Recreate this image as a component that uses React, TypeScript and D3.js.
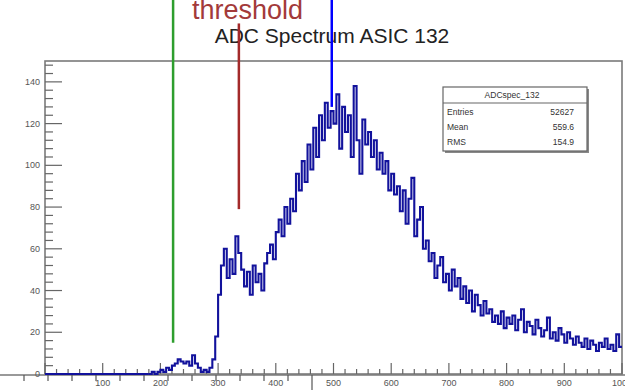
import React from 'react';
import * as d3 from 'd3';

// histogram: bins of width 5 starting at 180 (everything below is empty)
const binStart = 180;
const binWidth = 5;
const counts = [
  0, 1, 0, 1, 2, 1, 3, 2, 4, 5, 7, 6, 5, 6, 4, 9, 5, 3, 1, 2,
  1, 3, 7, 18, 38, 52, 60, 46, 55, 48, 66, 58, 50, 42, 49, 38, 52, 44, 48, 40,
  53, 58, 62, 55, 68, 74, 66, 80, 72, 84, 78, 96, 88, 102, 92, 110, 98, 118, 104, 124,
  112, 130, 118, 126, 120, 134, 108, 128, 116, 124, 104, 138, 112, 96, 122, 110, 116, 104, 112, 98,
  106, 96, 102, 88, 96, 86, 90, 78, 88, 72, 84, 94, 66, 74, 80, 60, 64, 54, 58, 46,
  52, 56, 44, 48, 40, 50, 42, 46, 36, 42, 34, 40, 30, 38, 33, 28, 35, 29, 31, 25,
  28, 24, 30, 22, 27, 24, 28, 21, 26, 31, 20, 25, 23, 19, 26, 22, 18, 21, 27, 17,
  20, 16, 22, 19, 15, 20, 17, 14, 18, 15, 13, 17, 12, 16, 14, 11, 15, 13, 17, 12,
  14, 11, 19, 13,
];

const xTickLabels = ['100', '200', '300', '400', '500', '600', '700', '800', '900', '1000'];
const yTickLabels = ['0', '20', '40', '60', '80', '100', '120', '140'];

// marker lines: position, bottom value, top value
const markers = [
  { x: 222, y0: 15, y1: 180, color: '#2e9e2e' },
  { x: 336, y0: 79, y1: 168, color: '#a32a2a' },
  { x: 497, y0: 128, y1: 180, color: '#0000ff' },
];

const statLabels = ['Entries', 'Mean', 'RMS'];
const statValues = ['52627', '559.6', '154.9'];

const W = 625;
const H = 390;
const font = '"Liberation Sans", Arial, sans-serif';

export default function App() {
  const x = d3.scaleLinear().domain([0, 1000]).range([45, 622]);
  const y = d3.scaleLinear().domain([0, 150]).range([374, 61]);
  // stray axis under the frame
  const stray = d3.scaleLinear().domain([0, 13]).range([0, 312]);

  const pts: [number, number][] = counts.map((c, i) => [binStart + i * binWidth, c]);
  pts.push([binStart + counts.length * binWidth, counts[counts.length - 1]]);
  const hist = d3.line<[number, number]>()
    .x(d => x(d[0]))
    .y(d => y(d[1]))
    .curve(d3.curveStepAfter)(pts);
  const base = d3.line<[number, number]>()
    .x(d => x(d[0]))
    .y(d => y(d[1]))([[0, 0], [binStart, 0]]);

  const xMinor = d3.range(0, 1001, 20);
  const yMinor = d3.range(0, 149, 4);
  const yMajor = yTickLabels.map(Number);
  const xMajor = xTickLabels.map(Number);

  return (
    <svg width={W} height={H} style={{ position: 'absolute', left: 0, top: 0, background: '#fff' }}>
      <rect width={W} height={H} fill="#fff" />

      <text x={192} y={19} fontFamily={font} fontSize={27} fill="#a33a3a">threshold</text>
      <text x={332} y={43} fontFamily={font} fontSize={21} fill="#222" textAnchor="middle">ADC Spectrum ASIC 132</text>

      {/* frame */}
      <rect x={x(0)} y={y(150)} width={x(1000) - x(0)} height={y(0) - y(150)} fill="none" stroke="#7a7a7a" strokeWidth={1.6} />
      <line x1={0} x2={W} y1={y(0) + 1} y2={y(0) + 1} stroke="#777" strokeWidth={1.5} />
      {stray.ticks(13).filter(t => t > 0).map(t => (
        <line key={'s' + t} x1={stray(t)} x2={stray(t)} y1={y(0) + 1} y2={y(0) + (t === 13 ? 16 : 7)} stroke="#555" strokeWidth={1.2} />
      ))}

      {/* x ticks */}
      {xMinor.map(t => (
        <line key={'xm' + t} x1={x(t)} x2={x(t)} y1={y(0)} y2={y(0) - (t % 100 === 0 ? 11 : 5)} stroke="#666" strokeWidth={1.2} />
      ))}
      {xMajor.map((t, i) => (
        <text key={'xl' + t} x={x(t)} y={386} fontFamily={font} fontSize={9} fill="#555" textAnchor="middle">{xTickLabels[i]}</text>
      ))}

      {/* y ticks */}
      {yMinor.map(t => (
        <line key={'ym' + t} x1={x(0)} x2={x(0) + (t % 20 === 0 ? 17 : 8)} y1={y(t)} y2={y(t)} stroke="#666" strokeWidth={1.2} />
      ))}
      {yMajor.map((t, i) => (
        <text key={'yl' + t} x={40} y={y(t) + 3} fontFamily={font} fontSize={9} fill="#555" textAnchor="end">{yTickLabels[i]}</text>
      ))}

      {/* histogram */}
      <path d={base || ''} fill="none" stroke="#12129c" strokeWidth={1.8} />
      <path d={hist || ''} fill="none" stroke="#12129c" strokeWidth={2.1} strokeLinejoin="miter" />

      {/* markers */}
      {markers.map(m => (
        <line key={m.color} x1={x(m.x)} x2={x(m.x)} y1={y(m.y0)} y2={y(m.y1)} stroke={m.color} strokeWidth={2.5} />
      ))}

      {/* stats box */}
      <g fontFamily={font} fontSize={8.5} fill="#333">
        <rect x={445} y={89} width={144} height={64} fill="#888" />
        <rect x={443} y={87} width={144} height={64} fill="#fff" stroke="#666" strokeWidth={1.2} />
        <line x1={443} x2={587} y1={103} y2={103} stroke="#666" strokeWidth={1.2} />
        <text x={512} y={98} textAnchor="middle">ADCspec_132</text>
        {statLabels.map((l, i) => (
          <g key={l}>
            <text x={447} y={115 + i * 15}>{l}</text>
            <text x={574} y={115 + i * 15} textAnchor="end">{statValues[i]}</text>
          </g>
        ))}
      </g>
    </svg>
  );
}
